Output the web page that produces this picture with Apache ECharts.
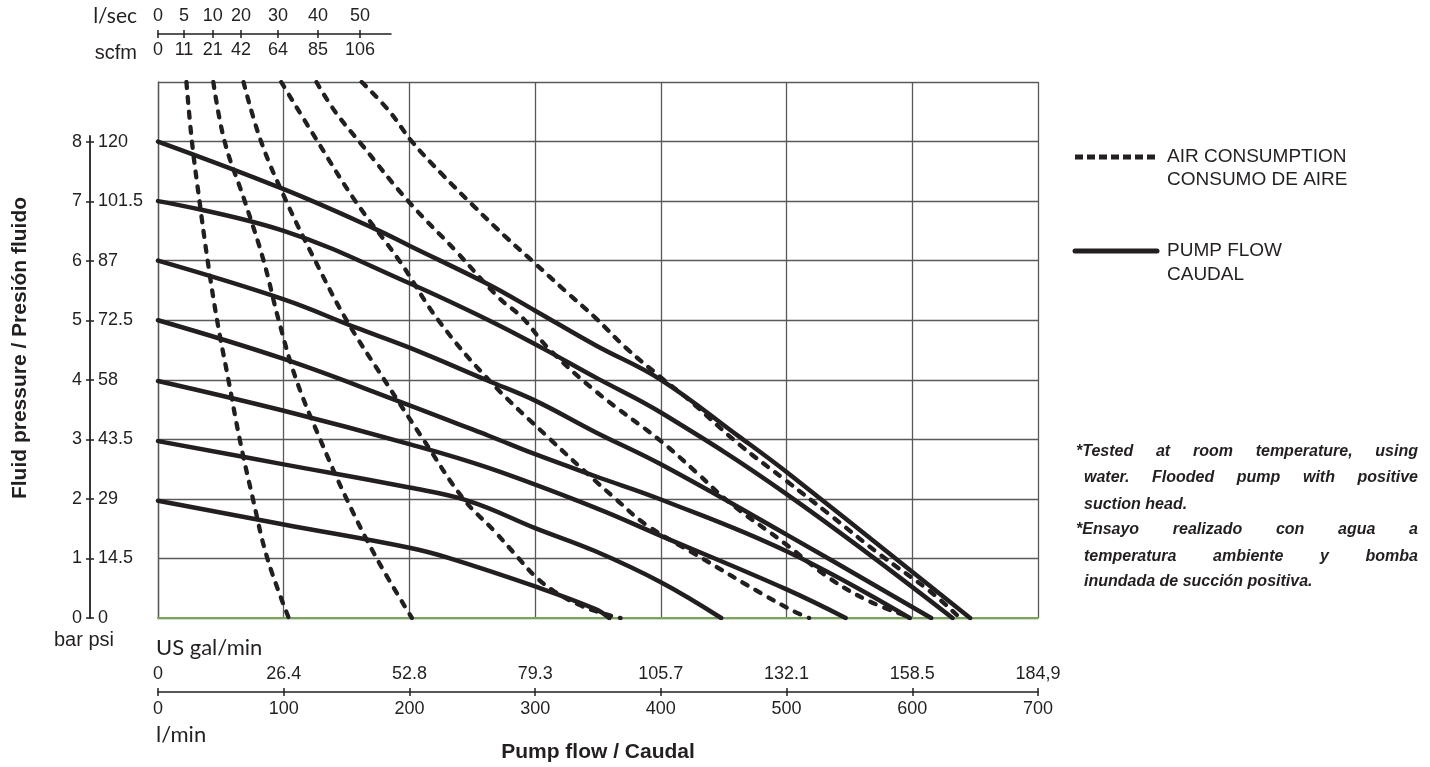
<!DOCTYPE html>
<html>
<head>
<meta charset="utf-8">
<script src="https://cdn.jsdelivr.net/npm/echarts@6/dist/echarts.min.js"></script>
<style>
  html, body { margin: 0; padding: 0; background: #fff; }
  #chart { width: 1430px; height: 767px; }
</style>
</head>
<body>
<div id="chart"></div>
<script>
// ---- axis ticks / labels ----
const flowTicks = [0, 100, 200, 300, 400, 500, 600, 700];            // l/min
const gpmLabels = ['0', '26.4', '52.8', '79.3', '105.7', '132.1', '158.5', '184,9'];
const barTicks = [0, 1, 2, 3, 4, 5, 6, 7, 8];
const psiLabels = ['0', '14.5', '29', '43.5', '58', '72.5', '87', '101.5', '120'];
const airTickFlow = [0, 20.7, 43.5, 66, 95.5, 127.3, 160.7];        // where the air curves hit the top, l/min
const airLps = ['0', '5', '10', '20', '30', '40', '50'];
const airScfm = ['0', '11', '21', '42', '64', '85', '106'];

// ---- pump flow curves [l/min, bar] ----
const pump2bar = [[0, 1.97], [100, 1.57], [200, 1.18], [231, 1.01], [300, 0.53], [348, 0.15], [359, 0]];
const pump3bar = [[0, 2.97], [100, 2.58], [200, 2.19], [248, 1.96], [300, 1.51], [348, 1.12], [400, 0.6], [448, 0]];
const pump4bar = [[0, 3.98], [100, 3.48], [200, 2.92], [263, 2.52], [348, 1.85], [400, 1.38], [500, 0.48], [547, 0]];
const pump5bar = [[0, 5.0], [100, 4.35], [189, 3.66], [263, 3.06], [300, 2.75], [348, 2.38], [400, 1.99], [500, 1.12], [598, 0]];
const pump6bar = [[0, 6.0], [100, 5.35], [157, 4.88], [200, 4.54], [263, 3.98], [300, 3.65], [348, 3.12], [400, 2.58], [500, 1.4], [615, 0]];
const pump7bar = [[0, 7.0], [100, 6.5], [200, 5.62], [263, 5.0], [305, 4.54], [348, 4.04], [400, 3.45], [500, 2.08], [632, 0]];
const pump8bar = [[0, 8.0], [100, 7.2], [173, 6.53], [200, 6.25], [263, 5.6], [300, 5.16], [348, 4.58], [400, 4.0], [462, 3.05], [500, 2.45], [646, 0]];

// ---- air consumption curves [l/min, bar] ----
const air5 = [[22.6, 9], [27, 8], [33, 7], [39.5, 6], [47, 5], [56, 4], [65, 3], [75.5, 2], [87, 1], [104, 0]];
const air10 = [[44, 9], [53, 8], [69, 7], [84, 6], [96, 5], [110, 4], [129, 3], [150, 2], [174, 1], [202, 0]];
const air20 = [[68, 9], [82, 8], [102, 7], [125, 6], [150, 5], [180, 4], [211, 3], [243, 2], [268, 1.45], [287, 1.0], [300, 0.7], [315, 0.45], [335, 0.22], [355, 0.07], [368, 0]];
const air30 = [[98, 9], [127, 8], [157, 7], [192, 6], [223, 5], [263, 4], [312, 3], [348, 2.3], [364, 2], [388, 1.57], [433, 1], [481, 0.4], [507, 0.1], [518, 0]];
const air40 = [[126, 9], [141, 8.5], [162, 7.95], [199, 7], [237, 6.16], [271, 5.38], [290, 5.04], [310, 4.54], [348, 3.81], [400, 2.97], [428, 2.45], [454, 1.95], [500, 1.23], [534, 0.67], [566, 0.28], [600, 0]];
const air50 = [[162, 9], [184, 8.51], [202, 8], [226, 7.45], [250, 6.94], [277, 6.39], [298, 5.99], [324, 5.49], [348, 5.04], [372, 4.54], [400, 4.04], [423, 3.65], [462, 2.92], [500, 2.3], [534, 1.74], [574, 1.07], [614, 0.45], [638, 0]];

const ink = '#231f20';
const gridGray = '#58595b';
const sans = '"Liberation Sans", Arial, Helvetica, sans-serif';
const human = 'Lato, "Open Sans", sans-serif';

const pumpCurves = [pump2bar, pump3bar, pump4bar, pump5bar, pump6bar, pump7bar, pump8bar];
const airCurves = [air5, air10, air20, air30, air40, air50];

const series = [];
airCurves.forEach(d => series.push({
  type: 'line', xAxisIndex: 0, yAxisIndex: 0, data: d,
  showSymbol: false, smooth: 0.4, silent: true,
  lineStyle: {color: ink, width: 4.3, type: [6, 9], cap: 'round', join: 'round'}
}));
pumpCurves.forEach(d => series.push({
  type: 'line', xAxisIndex: 0, yAxisIndex: 0, data: d,
  showSymbol: false, smooth: 0.4, silent: true,
  lineStyle: {color: ink, width: 4.5, cap: 'round', join: 'round'}
}));

// justified note text, one word per text element
const noteFont = 'italic bold 16px "Liberation Sans"';
const noteRight = 1418;
const noteLines = [
  ['*Tested at room temperature, using', 1076, 452, true],
  ['water. Flooded pump with positive', 1084, 478, true],
  ['suction head.', 1084, 505, false],
  ['*Ensayo realizado con agua a', 1076, 530, true],
  ['temperatura ambiente y bomba', 1084, 557, true],
  ['inundada de succión positiva.', 1084, 582, false]
];
const ctx = document.createElement('canvas').getContext('2d');
ctx.font = noteFont;
const noteEls = [];
noteLines.forEach(([text, left, y, justify]) => {
  const words = text.split(' ');
  const widths = words.map(w => ctx.measureText(w).width);
  const total = widths.reduce((a, b) => a + b, 0);
  const gap = justify ? (noteRight - left - total) / (words.length - 1) : ctx.measureText(' ').width;
  let x = left;
  words.forEach((w, i) => {
    noteEls.push({type: 'text', x: x, y: y, silent: true,
      style: {text: w, font: noteFont, fill: ink, align: 'left', verticalAlign: 'middle'}});
    x += widths[i] + gap;
  });
});

const txt = (text, x, y, font, align, extra) => Object.assign({
  type: 'text', x: x, y: y, silent: true,
  style: {text: text, font: font, fill: ink, align: align || 'left', verticalAlign: 'middle'}
}, extra || {});

const labelStyle = {color: ink, fontSize: 18, fontFamily: sans};

const option = {
  animation: false,
  backgroundColor: '#fff',
  grid: [
    {left: 158, top: 82, width: 880, height: 536},
    {left: 90, top: 136, width: 0, height: 482},
    {left: 158, top: 34, width: 233, height: 0},
    {left: 158, top: 692, width: 880, height: 0}
  ],
  xAxis: [
    {gridIndex: 0, type: 'value', min: 0, max: 700, interval: 100,
      axisLine: {onZero: true, lineStyle: {color: '#78a556', width: 2}},
      axisTick: {show: false}, axisLabel: {show: false},
      splitLine: {lineStyle: {color: gridGray, width: 1.3}}},
    {gridIndex: 1, type: 'value', min: 0, max: 1, show: false},
    {gridIndex: 2, type: 'value', position: 'bottom', min: 0, max: 185.4,
      axisLine: {onZero: false, lineStyle: {color: ink, width: 1.5}},
      axisTick: {customValues: airTickFlow, length: 4, lineStyle: {color: ink, width: 1.5}},
      axisLabel: Object.assign({customValues: airTickFlow, margin: 7,
        formatter: v => airScfm[airTickFlow.indexOf(v)]}, labelStyle),
      splitLine: {show: false}},
    {gridIndex: 2, type: 'value', position: 'top', min: 0, max: 185.4,
      axisLine: {show: false, onZero: false},
      axisTick: {customValues: airTickFlow, length: 4, lineStyle: {color: ink, width: 1.5}},
      axisLabel: Object.assign({customValues: airTickFlow, margin: 9,
        formatter: v => airLps[airTickFlow.indexOf(v)]}, labelStyle),
      splitLine: {show: false}},
    {gridIndex: 3, type: 'value', position: 'bottom', min: 0, max: 700,
      axisLine: {onZero: false, lineStyle: {color: ink, width: 1.5}},
      axisTick: {customValues: flowTicks, length: 4, lineStyle: {color: ink, width: 1.5}},
      axisLabel: Object.assign({customValues: flowTicks, margin: 8,
        formatter: v => String(v)}, labelStyle),
      splitLine: {show: false}},
    {gridIndex: 3, type: 'value', position: 'top', min: 0, max: 700,
      axisLine: {show: false, onZero: false},
      axisTick: {customValues: flowTicks, length: 4, lineStyle: {color: ink, width: 1.5}},
      axisLabel: Object.assign({customValues: flowTicks, margin: 9,
        formatter: v => gpmLabels[flowTicks.indexOf(v)]}, labelStyle),
      splitLine: {show: false}}
  ],
  yAxis: [
    {gridIndex: 0, type: 'value', min: 0, max: 9, interval: 1,
      axisLine: {show: true, lineStyle: {color: gridGray, width: 1.3}},
      axisTick: {show: false}, axisLabel: {show: false},
      splitLine: {lineStyle: {color: gridGray, width: 1.3}}},
    {gridIndex: 1, type: 'value', position: 'left', min: 0, max: 8.1,
      axisLine: {show: true, onZero: false, lineStyle: {color: ink, width: 1.8}},
      axisTick: {customValues: barTicks, length: 4, lineStyle: {color: ink, width: 1.5}},
      axisLabel: Object.assign({customValues: barTicks, margin: 8,
        formatter: v => String(v)}, labelStyle),
      splitLine: {show: false}},
    {gridIndex: 1, type: 'value', position: 'right', min: 0, max: 8.1,
      axisLine: {show: false, onZero: false},
      axisTick: {customValues: barTicks, length: 4, lineStyle: {color: ink, width: 1.5}},
      axisLabel: Object.assign({customValues: barTicks, margin: 8,
        formatter: v => psiLabels[barTicks.indexOf(v)]}, labelStyle),
      splitLine: {show: false}},
    {gridIndex: 2, type: 'value', min: 0, max: 1, show: false},
    {gridIndex: 3, type: 'value', min: 0, max: 1, show: false}
  ],
  series: series,
  graphic: [
    txt('Fluid pressure / Presión fluido', 20, 348, 'bold 21px ' + sans, 'center', {rotation: Math.PI / 2}),
    txt('bar psi', 84, 640, '20px ' + sans, 'center'),
    txt('US gal/min', 156, 648, '22px ' + human, 'left'),
    txt('l/min', 156, 735, '22px ' + human, 'left'),
    txt('Pump flow / Caudal', 598, 752, 'bold 21px ' + sans, 'center'),
    txt('l/sec', 137, 16, '21px ' + human, 'right'),
    txt('scfm', 137, 53, '20px ' + sans, 'right'),
    // legend
    {type: 'line', silent: true, shape: {x1: 1075, y1: 157, x2: 1156, y2: 157},
      style: {stroke: ink, lineWidth: 5, lineDash: [8, 4]}},
    txt('AIR CONSUMPTION', 1167, 157, '19px ' + sans, 'left'),
    txt('CONSUMO DE AIRE', 1167, 180, '19px ' + sans, 'left'),
    {type: 'line', silent: true, shape: {x1: 1075, y1: 251, x2: 1157, y2: 251},
      style: {stroke: ink, lineWidth: 5, lineCap: 'round'}},
    txt('PUMP FLOW', 1167, 251, '19px ' + sans, 'left'),
    txt('CAUDAL', 1167, 275, '19px ' + sans, 'left')
  ].concat(noteEls)
};

const chart = echarts.init(document.getElementById('chart'));
chart.setOption(option);
</script>
</body>
</html>
